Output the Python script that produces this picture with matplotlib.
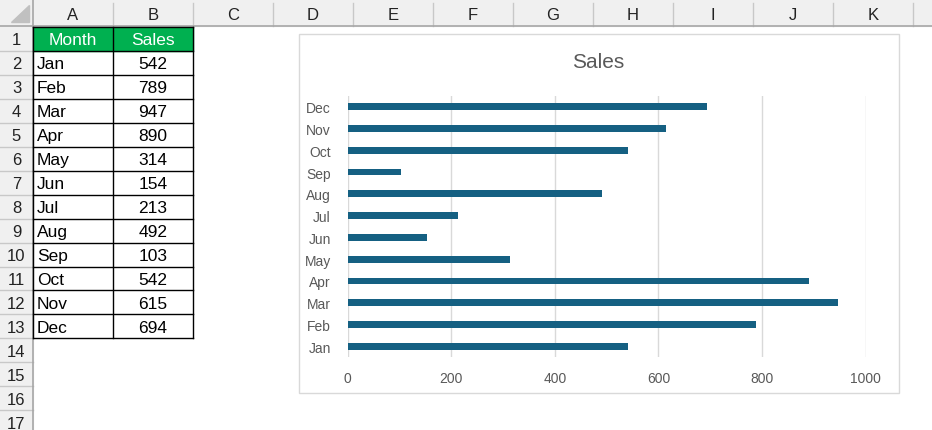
import numpy as np
import matplotlib
matplotlib.use('Agg')
from matplotlib import pyplot as plt
from matplotlib.patches import Rectangle, Polygon

plt.rcParams['font.family'] = ['Liberation Sans', 'DejaVu Sans']

months = ['Jan', 'Feb', 'Mar', 'Apr', 'May', 'Jun', 'Jul', 'Aug', 'Sep', 'Oct', 'Nov', 'Dec']
sales = [542, 789, 947, 890, 314, 154, 213, 492, 103, 542, 615, 694]
col_letters = ['A', 'B', 'C', 'D', 'E', 'F', 'G', 'H', 'I', 'J', 'K']
x_ticks = [0, 200, 400, 600, 800, 1000]

W, H = 932, 431
fig = plt.figure(figsize=(W / 100, H / 100), dpi=100)

# sheet layer in pixel coordinates
sh = fig.add_axes([0, 0, 1, 1])
sh.set_xlim(0, W)
sh.set_ylim(H, 0)
sh.axis('off')

hdr_h = 27
row_w = 33
col_w = 80
row_h = 23.95
row_top = 28
hdr_bg = '#F0F0F0'
hdr_line = '#C8C8C8'

# column header strip + row header strip
sh.add_patch(Rectangle((0, 0), W, hdr_h, color=hdr_bg, zorder=1))
sh.add_patch(Rectangle((0, 0), row_w, H, color=hdr_bg, zorder=1))
sh.plot([0, W], [hdr_h, hdr_h], color='#A6A6A6', lw=1.2, zorder=3)
sh.plot([row_w, row_w], [0, H], color='#A6A6A6', lw=1.2, zorder=3)
sh.add_patch(Polygon([[row_w - 4, 6], [row_w - 4, hdr_h - 4], [row_w - 22, hdr_h - 4]],
                     color='#C0C0C0', zorder=2))

for i, c in enumerate(col_letters):
    x0 = row_w + i * col_w
    sh.plot([x0 + col_w, x0 + col_w], [4, hdr_h], color=hdr_line, lw=1, zorder=2)
    sh.text(x0 + col_w / 2, 15, c, ha='center', va='center', fontsize=12, color='#222222', zorder=4)

for r in range(1, 18):
    y0 = row_top + (r - 1) * row_h
    sh.plot([0, row_w], [y0 + row_h, y0 + row_h], color=hdr_line, lw=1, zorder=2)
    sh.text(row_w / 2, y0 + row_h / 2 + 1, str(r), ha='center', va='center',
            fontsize=12, color='#222222', zorder=4)

# data table
ax_a = row_w
ax_b = row_w + col_w
sh.add_patch(Rectangle((ax_a, row_top), 2 * col_w, row_h, color='#00B050', zorder=2))
sh.text(ax_a + col_w / 2, row_top + row_h / 2 + 1, 'Month', ha='center', va='center',
        fontsize=12.5, color='white', zorder=4)
sh.text(ax_b + col_w / 2, row_top + row_h / 2 + 1, 'Sales', ha='center', va='center',
        fontsize=12.5, color='white', zorder=4)
for i, (m, s) in enumerate(zip(months, sales)):
    yc = row_top + (i + 1) * row_h + row_h / 2 + 1
    sh.text(ax_a + 4, yc, m, ha='left', va='center', fontsize=12.5, color='black', zorder=4)
    sh.text(ax_b + col_w / 2, yc, str(s), ha='center', va='center', fontsize=12.5,
            color='black', zorder=4)
tbl_bottom = row_top + 13 * row_h
for k in range(14):
    y = row_top + k * row_h
    sh.plot([ax_a, ax_a + 2 * col_w], [y, y], color='black', lw=1, zorder=3)
for x in [ax_a, ax_b, ax_b + col_w]:
    sh.plot([x, x], [row_top, tbl_bottom], color='black', lw=1, zorder=3)

# chart box
sh.add_patch(Rectangle((299, 35), 600, 359, facecolor='white', edgecolor='#D9D9D9',
                       lw=1, zorder=5))
sh.text(598, 62, 'Sales', ha='center', va='center', fontsize=15, color='#595959', zorder=6)

# chart plot area
px_l, px_r, px_t, px_b = 347.5, 865.7, 96.7, 358.3
ax = fig.add_axes([px_l / W, (H - px_b) / H, (px_r - px_l) / W, (px_b - px_t) / H], zorder=10)
ax.patch.set_alpha(0)
ax.barh(months, sales, height=0.32, color='#156082', zorder=3)
ax.set_xlim(0, 1000)
ax.set_ylim(-0.5, len(months) - 0.5)
ax.set_xticks(x_ticks)
ax.grid(axis='x', color='#D9D9D9', lw=1)
ax.set_axisbelow(True)
for sp in ax.spines.values():
    sp.set_visible(False)
ax.tick_params(axis='both', length=0, labelsize=10, labelcolor='#595959')
ax.tick_params(axis='y', pad=12)
ax.tick_params(axis='x', pad=10)

fig.savefig('out.png', dpi=100)
